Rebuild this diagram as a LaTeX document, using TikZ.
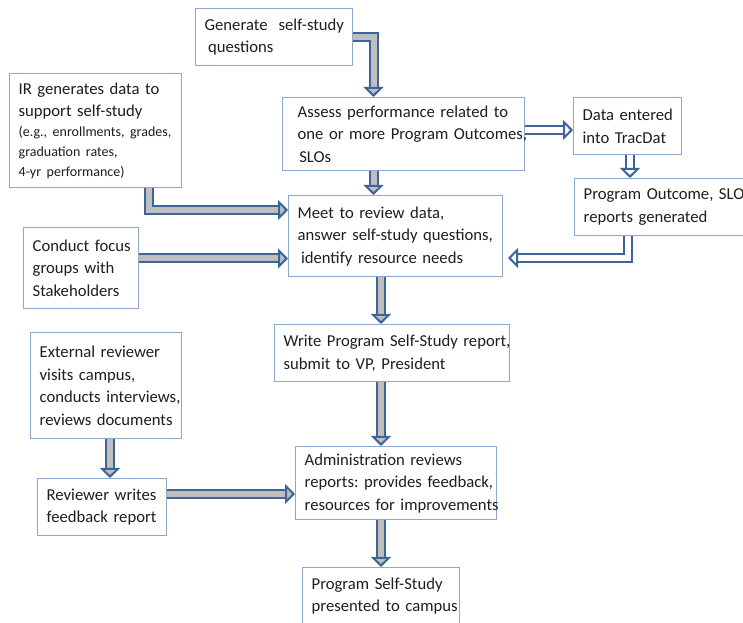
\documentclass[tikz,border=0pt]{standalone}
\usepackage{fontspec}
\setmainfont{Carlito}
\usetikzlibrary{arrows.meta,calc}
\definecolor{boxline}{HTML}{8EA8CC}
\definecolor{arrline}{HTML}{3D6598}
\definecolor{arrfill}{HTML}{BFBFBF}
\definecolor{txt}{HTML}{1E1E1E}
\newcommand\myl[1]{\mbox{#1}}
\frenchspacing
\begin{document}
\begin{tikzpicture}[x=0.75pt,y=-0.75pt,
  box/.style={draw=boxline, line width=1pt, fill=white, anchor=north west,
    align=left, inner ysep=0pt, inner xsep=6.75pt, text=txt,
    font=\fontsize{12.5}{16.9}\selectfont},
  garrow/.style={draw=arrline, line width=1.5pt, double=arrfill, double distance=4.5pt,
    -{Triangle[open, fill=arrfill, length=7.5pt, width=15pt]}},
  warrow/.style={draw=arrline, line width=1.5pt, double=white, double distance=4.5pt,
    -{Triangle[open, fill=white, length=7.5pt, width=15pt]}}]
\useasboundingbox (0,0) rectangle (743,623);
\clip (0,0) rectangle (743,623);
\fill[white] (0,0) rectangle (743,623);

\node[box, text width=104.25pt, minimum height=42.75pt] (gen) at (195,8)
  {\myl{Generate\ \ self-study}\\\myl{\hspace{0.2em}questions}};
\node[box, text width=115.5pt, minimum height=85.5pt] (ir) at (9,73)
  {\myl{IR generates data to}\\\myl{support self-study}\par
   {\fontsize{10.5}{15}\selectfont \myl{(e.g., enrollments, grades,}\\\myl{graduation rates,}\\\myl{4-yr performance)}\par}};
\node[box, text width=159pt, minimum height=54.75pt, inner xsep=11.25pt] (assess) at (282,97)
  {\myl{Assess performance related to}\\\myl{one or more Program Outcomes,}\\\myl{\hspace{0.1em}SLOs}};
\node[box, text width=67.5pt, minimum height=42.75pt] (data) at (573,97)
  {\myl{Data entered}\\\myl{into TracDat}};
\node[box, text width=126pt, minimum height=42.75pt] (po) at (574,178)
  {\myl{Program Outcome, SLO}\\\myl{reports generated}};
\node[box, text width=147pt, minimum height=60.75pt] (meet) at (288,195)
  {\myl{Meet to review data,}\\\myl{answer self-study questions,}\\\myl{\hspace{0.2em}identify resource needs}};
\node[box, text width=72.75pt, minimum height=60.75pt] (focus) at (23,227)
  {\myl{Conduct focus}\\\myl{groups with}\\\myl{Stakeholders}};
\node[box, text width=162.75pt, minimum height=42.75pt] (write) at (274,324)
  {\myl{Write Program Self-Study report,}\\\myl{submit to VP, President}};
\node[box, text width=99.75pt, minimum height=79.5pt] (ext) at (30,332)
  {\myl{External reviewer}\\\myl{visits campus,}\\\myl{conducts interviews,}\\\myl{reviews documents}};
\node[box, text width=83.25pt, minimum height=42.75pt] (rev) at (37,478)
  {\myl{Reviewer writes}\\\myl{feedback report}};
\node[box, text width=137.25pt, minimum height=54.75pt] (admin) at (295,446)
  {\myl{Administration reviews}\\\myl{reports: provides feedback,}\\\myl{resources for improvements}};
\node[box, text width=104.25pt, minimum height=42.75pt] (pres) at (302,567)
  {\myl{Program Self-Study}\\\myl{presented to campus}};

% connectors
\draw[garrow] (gen.east |- 0,37) -| (assess.north -| 373.5,0);
\draw[garrow] (assess.south -| 373.5,0) -- (meet.north -| 373.5,0);
\draw[warrow] (assess.east |- 0,130) -- (data.west |- 0,130);
\draw[warrow] (data.south -| 630,0) -- (po.north -| 630,0);
\coordinate (potip) at (508,258);
\draw[warrow] (po.south -| 627.5,0) |- (potip);
\draw[garrow] (ir.south -| 149,0) |- (meet.west |- 0,210);
\draw[garrow] (focus.east |- 0,258.5) -- (meet.west |- 0,258.5);
\draw[garrow] (meet.south -| 381,0) -- (write.north -| 381,0);
\draw[garrow] (write.south -| 381,0) -- (admin.north -| 381,0);
\draw[garrow] (admin.south -| 381,0) -- (pres.north -| 381,0);
\draw[garrow] (ext.south -| 110,0) -- (rev.north -| 110,0);
\draw[garrow] (rev.east |- 0,494) -- (admin.west |- 0,494);
\end{tikzpicture}
\end{document}
